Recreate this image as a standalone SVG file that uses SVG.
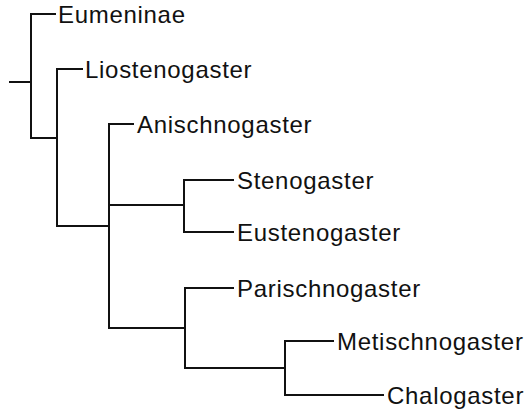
<svg xmlns="http://www.w3.org/2000/svg" width="531" height="411" viewBox="0 0 531 411">
<style>
.e{fill:none;stroke:#111;stroke-width:2;stroke-linecap:square}
.t{font-family:"Liberation Sans",Arial,sans-serif;font-size:24px;letter-spacing:0.7px;fill:#111}
</style>
<rect width="531" height="411" fill="#fff"/>
<g id="connectors" class="e">
<path d="M10 82H31M31 14V138M31 14H55M31 138H57"/>
<path d="M57 69V226M57 69H82M57 226H109"/>
<path d="M109 124V328M109 124H133"/>
<path d="M109 205H184M184 180V232M184 180H233M184 232H233"/>
<path d="M109 328H185M185 288V368M185 288H233"/>
<path d="M185 368H285M285 341V395M285 341H333M285 395H383"/>
</g>
<g id="n-eumeninae"><text class="t" x="58" y="23">Eumeninae</text></g>
<g id="n-liostenogaster"><text class="t" x="85" y="78">Liostenogaster</text></g>
<g id="n-anischnogaster"><text class="t" x="137" y="133">Anischnogaster</text></g>
<g id="n-stenogaster"><text class="t" x="237" y="189">Stenogaster</text></g>
<g id="n-eustenogaster"><text class="t" x="237" y="241">Eustenogaster</text></g>
<g id="n-parischnogaster"><text class="t" x="237" y="297">Parischnogaster</text></g>
<g id="n-metischnogaster"><text class="t" x="337" y="350">Metischnogaster</text></g>
<g id="n-chalogaster"><text class="t" x="387" y="404">Chalogaster</text></g>
</svg>
